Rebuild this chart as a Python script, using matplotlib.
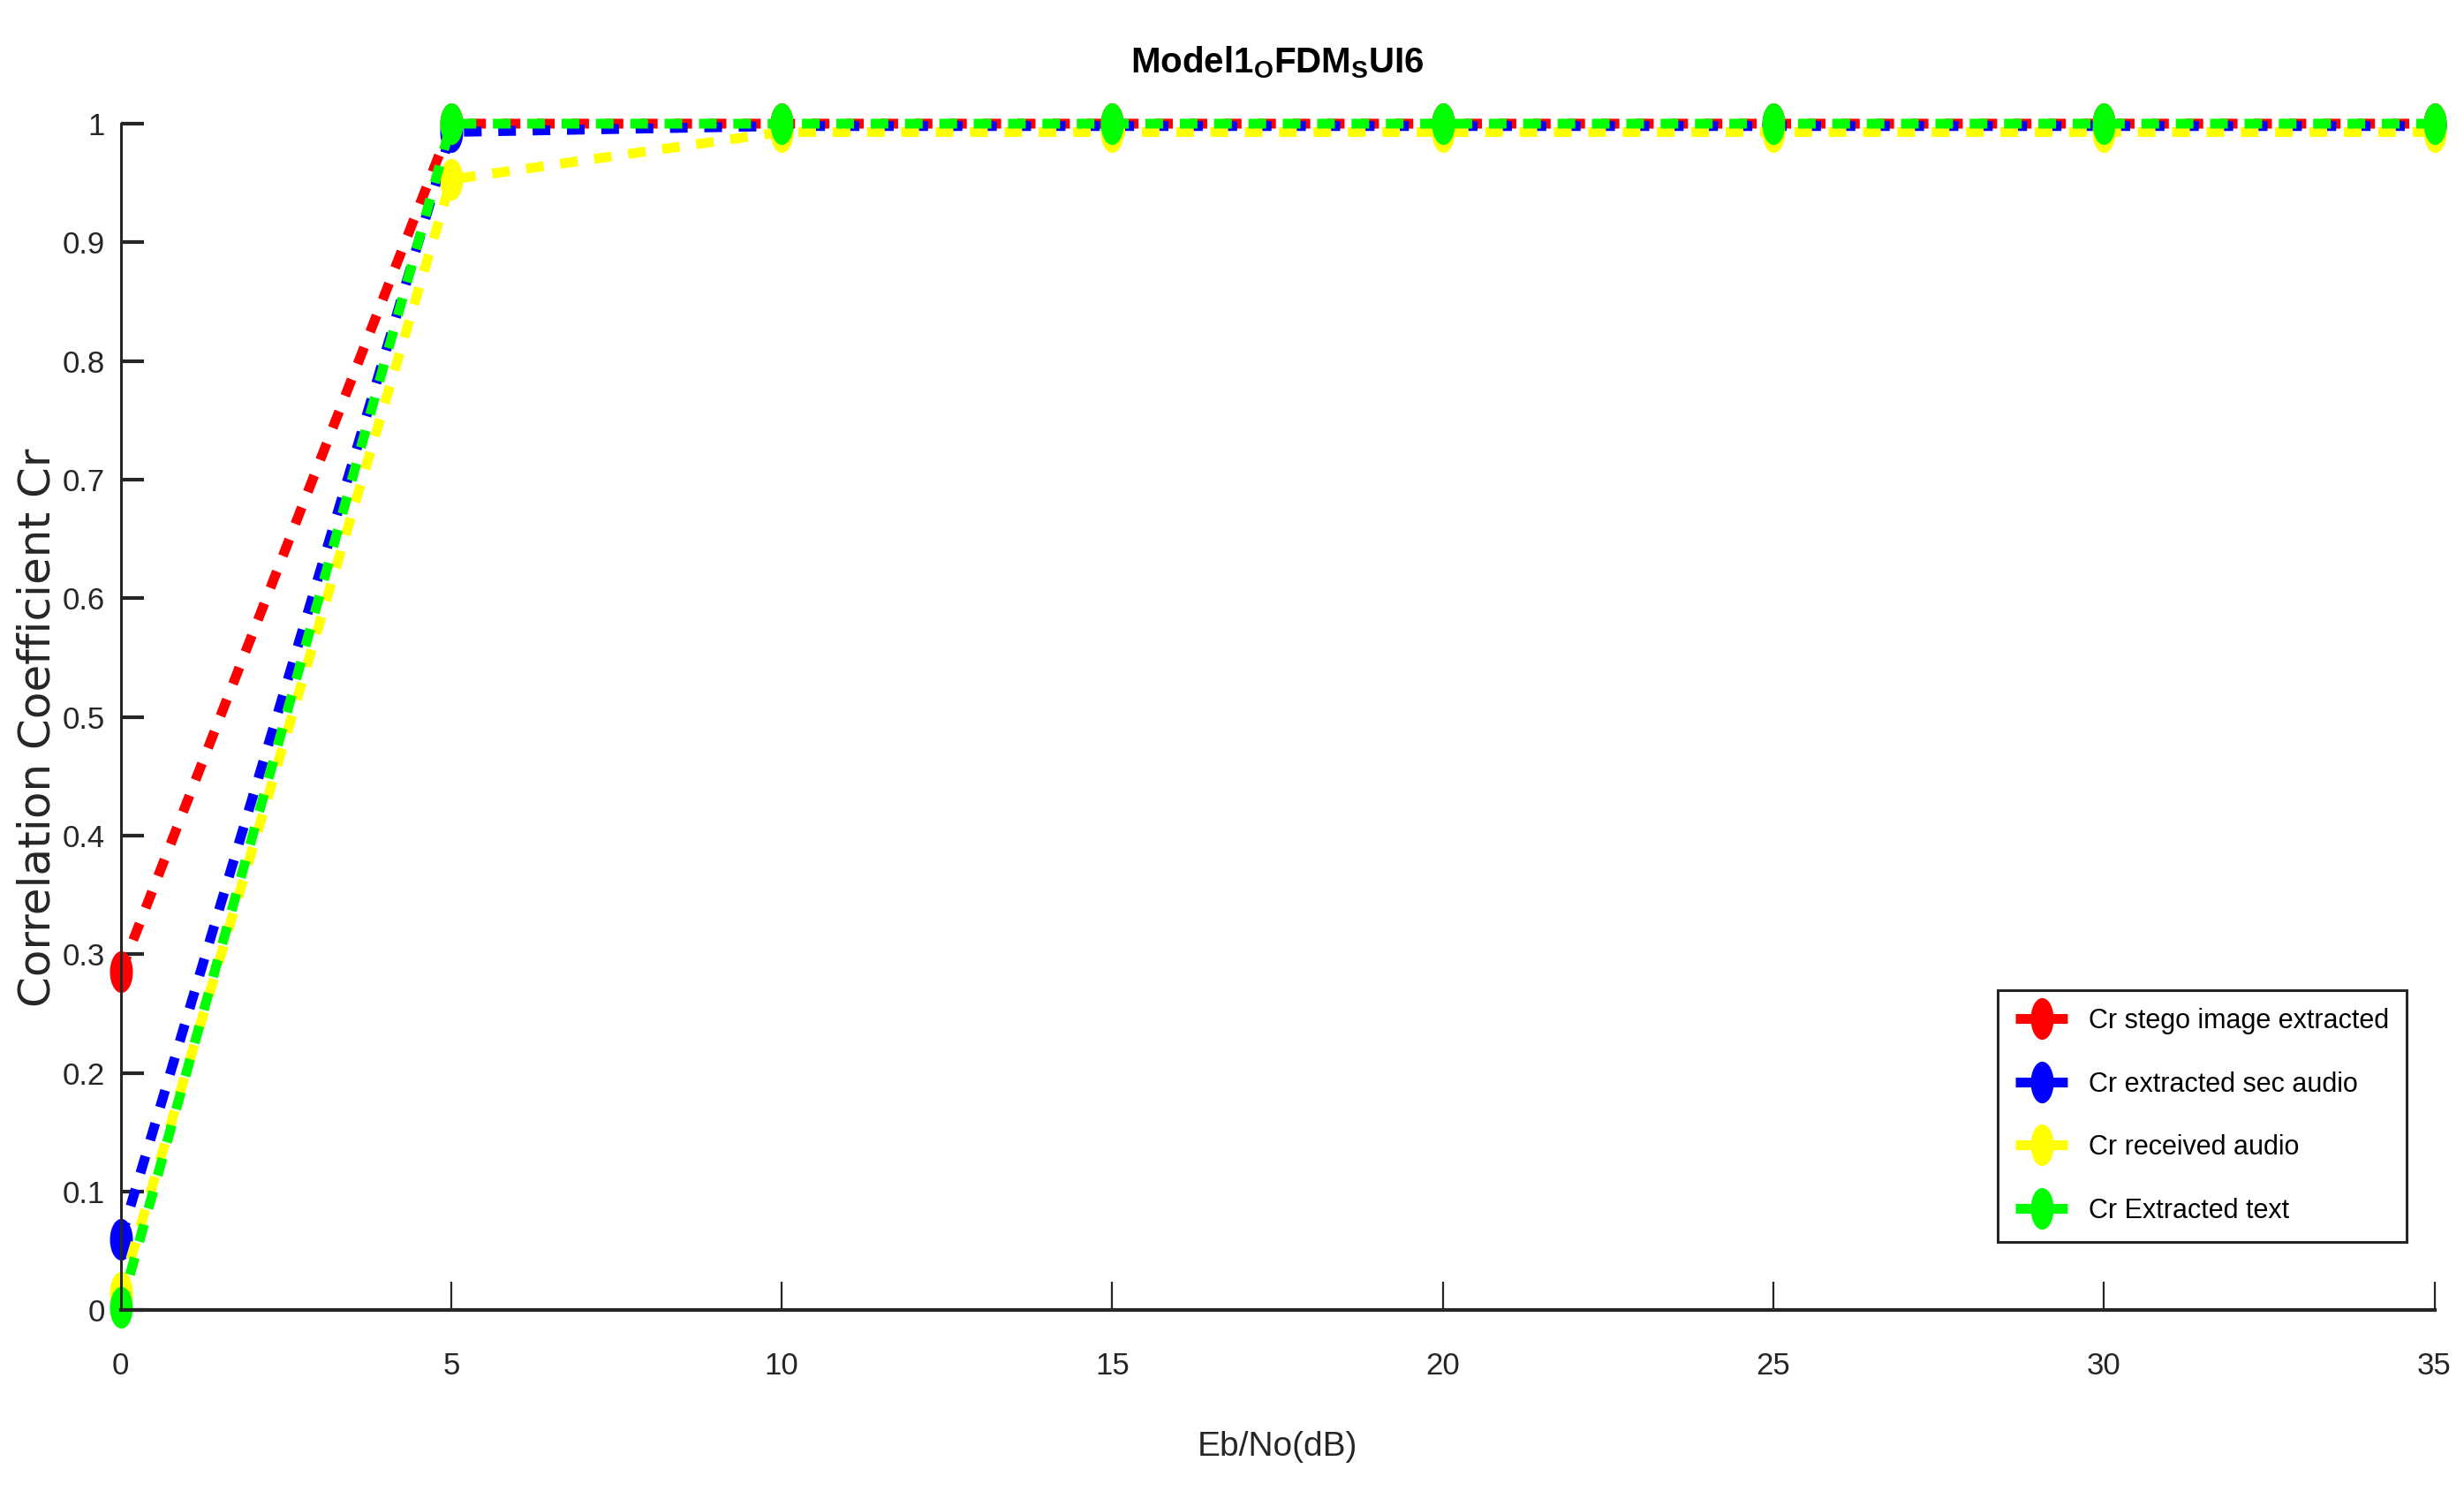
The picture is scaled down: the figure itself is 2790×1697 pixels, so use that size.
import numpy as np
import matplotlib
matplotlib.use("Agg")
import matplotlib.pyplot as plt
from matplotlib.path import Path

# ---- data ----
ebno = [0, 5, 10, 15, 20, 25, 30, 35]
cr_stego = [0.285, 1.0, 1.0, 1.0, 1.0, 1.0, 1.0, 1.0]
cr_sec_audio = [0.060, 0.993, 0.998, 0.998, 0.998, 0.998, 0.998, 0.998]
cr_recv_audio = [0.015, 0.953, 0.993, 0.993, 0.993, 0.993, 0.993, 0.993]
cr_text = [0.002, 1.0, 1.0, 1.0, 1.0, 1.0, 1.0, 1.0]
labels = ["Cr stego image extracted", "Cr extracted sec audio",
          "Cr received audio", "Cr Extracted text"]
colors = ["#ff0000", "#0000ff", "#ffff00", "#00ff00"]
xticks = [0, 5, 10, 15, 20, 25, 30, 35]
yticks = [0, 0.1, 0.2, 0.3, 0.4, 0.5, 0.6, 0.7, 0.8, 0.9, 1]
ytick_labels = ["0", "0.1", "0.2", "0.3", "0.4", "0.5", "0.6", "0.7", "0.8", "0.9", "1"]

plt.rcParams['font.family'] = ["Liberation Sans", "DejaVu Sans"]
plt.rcParams['mathtext.fontset'] = 'custom'
plt.rcParams['mathtext.rm'] = 'Liberation Sans'
plt.rcParams['mathtext.bf'] = 'Liberation Sans:bold'
plt.rcParams['mathtext.it'] = 'Liberation Sans:italic'

AX_COLOR = "#262626"

# tall ellipse marker (reference is stretched vertically)
t = np.linspace(0, 2 * np.pi, 40)
ell = Path(np.column_stack([0.55 * np.cos(t), np.sin(t)]), closed=True)

fig = plt.figure(figsize=(27.9, 16.97), dpi=100)
ax = fig.add_axes([0.049, 0.126, 0.939, 0.7915])

series = [cr_stego, cr_sec_audio, cr_recv_audio, cr_text]
for vals, lab, c in zip(series, labels, colors):
    ax.plot(ebno, vals, color=c, lw=8, dashes=(1.8, 1.7), dash_capstyle='butt',
            marker=ell, markersize=34, markerfacecolor=c, markeredgecolor=c,
            markeredgewidth=0, label=lab, clip_on=False)

ax.set_xlim(0, 35)
ax.set_ylim(0, 1)
ax.set_xticks(xticks)
ax.set_xticklabels([str(v) for v in xticks])
ax.set_yticks(yticks)
ax.set_yticklabels(ytick_labels)

for s in ['top', 'right']:
    ax.spines[s].set_visible(False)
for s in ['left', 'bottom']:
    ax.spines[s].set_color(AX_COLOR)
ax.spines['left'].set_linewidth(2.2)
ax.spines['bottom'].set_linewidth(3.0)

ax.tick_params(axis='x', direction='in', length=23, width=1.6, color=AX_COLOR,
               labelsize=25, labelcolor=AX_COLOR, pad=34)
ax.tick_params(axis='y', direction='in', length=19, width=3.0, color=AX_COLOR,
               labelsize=25, labelcolor=AX_COLOR, pad=13)

ax.set_xlabel("Eb/No(dB)", fontsize=28, color=AX_COLOR, va='center')
ax.xaxis.set_label_coords(0.5, -0.1154)
ax.set_ylabel("Correlation Coefficient Cr", fontsize=36, color=AX_COLOR,
              family=["DejaVu Sans"], va='center')
ax.yaxis.set_label_coords(-0.0358, 0.491)

fig.text(0.5183, 1 - 82 / 1697, r'$\mathbf{Model1_{O}FDM_{S}UI6}$',
         fontsize=29, ha='center', va='baseline', color='black')

leg = ax.legend(loc='upper right', bbox_to_anchor=(0.988, 0.2695),
                borderaxespad=0, fontsize=22, handlelength=1.97,
                handletextpad=0.75, labelspacing=1.36, borderpad=0.65,
                fancybox=False, framealpha=1, edgecolor=AX_COLOR)
leg.get_frame().set_linewidth(2.2)

fig.savefig("out.png", dpi=100, facecolor='white')
